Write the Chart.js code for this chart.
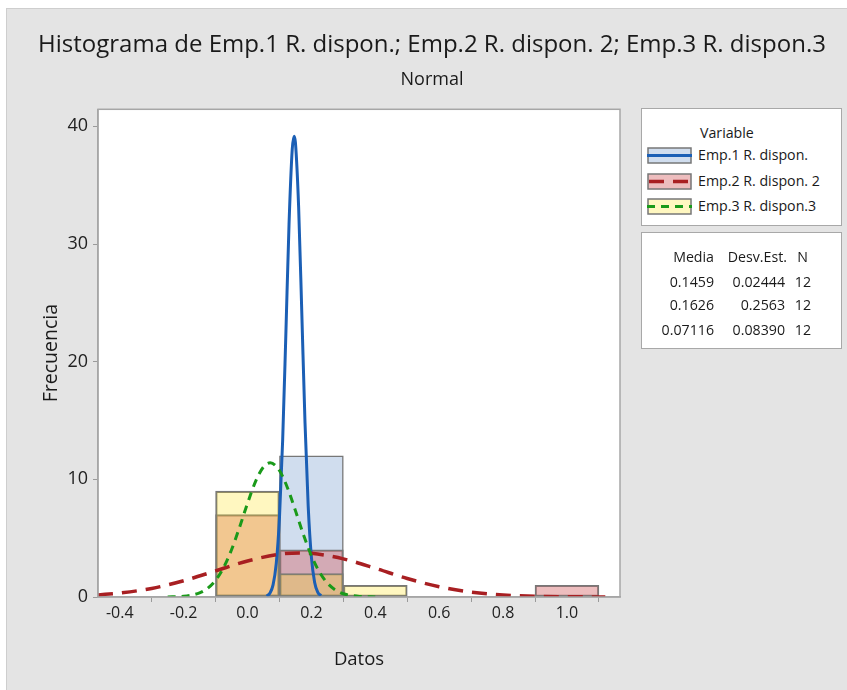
<!DOCTYPE html>
<html lang="es">
<head>
  <meta charset="utf-8">
  <title>Histograma de Emp.1 R. dispon.; Emp.2 R. dispon. 2; Emp.3 R. dispon.3</title>
  <script src="https://cdn.jsdelivr.net/npm/chart.js@4"></script>
  <style>
body {
  margin: 0;
  background: #fff;
  font-family: "Open Sans", sans-serif;
  color: #1a1a1a;
}

#panel {
  position: absolute;
  left: 6px;
  top: 8px;
  width: 841px;
  height: 682px;
  background: #e4e4e4;
  border-left: 1px solid #cecece;
  border-top: 1px solid #cecece;
  box-sizing: border-box;
}

#chart {
  position: absolute;
  left: 0;
  top: 0;
}

.box {
  position: absolute;
  left: 641px;
  width: 201px;
  background: #fff;
  border: 1px solid #a8a8a8;
  box-sizing: border-box;
}

.txt {
  position: absolute;
  font-size: 14.2px;
  line-height: 18px;
  white-space: nowrap;
}

.num {
  text-align: right;
}

svg.sw {
  position: absolute;
  left: 647px;
}
  </style>
</head>
<body>
  <div id="panel"></div>
  <canvas id="chart" width="847" height="690"></canvas>
  <div class="box" style="top:108px; height:118px;"></div>
  <div class="box" style="top:232px; height:117px;"></div>
  <div id="side"></div>
  <script type="text/javascript">
// Histogram bins (centres, width 0.2) and frequencies per variable
const seriesNames = ['Emp.1 R. dispon.', 'Emp.2 R. dispon. 2', 'Emp.3 R. dispon.3'];
const emp1BinX = [0.2];
const emp1Freq = [12];
const emp2BinX = [0.0, 0.2, 1.0];
const emp2Freq = [7, 4, 1];
const emp3BinX = [0.0, 0.2, 0.4];
const emp3Freq = [9, 2, 1];

// Fitted normal curves
const emp1CurveX = [0.06, 0.07, 0.08, 0.09, 0.10, 0.11, 0.12, 0.13, 0.14, 0.1459, 0.15, 0.16, 0.17, 0.18, 0.19, 0.20, 0.21, 0.22, 0.23];
const emp1CurveY = [0.08, 0.32, 1.03, 2.86, 6.71, 13.3, 22.3, 31.7, 38.05, 39.17, 38.62, 33.17, 24.09, 14.81, 7.70, 3.38, 1.26, 0.40, 0.11];
const emp2CurveX = [-0.468, -0.4, -0.3, -0.2, -0.1, 0.0, 0.1, 0.1626, 0.2, 0.3, 0.4, 0.5, 0.6, 0.7, 0.8, 0.9, 1.0, 1.12];
const emp2CurveY = [0.18, 0.34, 0.73, 1.38, 2.22, 3.06, 3.64, 3.75, 3.71, 3.24, 2.44, 1.57, 0.87, 0.42, 0.17, 0.06, 0.02, 0.003];
const emp3CurveX = [-0.25, -0.2, -0.15, -0.125, -0.1, -0.075, -0.05, -0.025, 0.0, 0.025, 0.05, 0.07116, 0.1, 0.125, 0.15, 0.175, 0.2, 0.225, 0.25, 0.275, 0.3, 0.35, 0.4];
const emp3CurveY = [0.01, 0.06, 0.35, 0.74, 1.42, 2.50, 4.02, 5.92, 7.96, 9.81, 11.05, 11.41, 10.75, 9.29, 7.34, 5.30, 3.51, 2.13, 1.18, 0.60, 0.28, 0.05, 0.01];

// Summary table
const statMedia = ['0.1459', '0.1626', '0.07116'];
const statDesv = ['0.02444', '0.2563', '0.08390'];
const statN = ['12', '12', '12'];

// Axis ticks
const xTicks = [-0.4, -0.2, 0.0, 0.2, 0.4, 0.6, 0.8, 1.0];
const yTicks = [0, 10, 20, 30, 40];

const FONT = '"Open Sans", sans-serif';
const lineColors = ['#1b5fb5', '#a81f22', '#1a9a1a'];
const barFills = ['rgb(208,221,238)', 'rgba(215,109,111,0.45)', 'rgba(255,226,22,0.27)'];
const swatchFills = ['rgb(208,221,238)', 'rgb(237,189,190)', 'rgb(255,247,192)'];
const dashes = [[], [15, 9], [8, 6]];
const widths = [3, 3.5, 3];

const pts = (xs, ys) => xs.map((x, i) => ({x: x, y: ys[i]}));

const barSet = (xs, ys, i, order) => ({
  type: 'bar',
  label: seriesNames[i],
  data: pts(xs, ys),
  backgroundColor: barFills[i],
  borderColor: '#777',
  borderWidth: 1.5,
  borderSkipped: false,
  barPercentage: 1,
  categoryPercentage: 1,
  grouped: false,
  order: order
});

const lineSet = (xs, ys, i, order) => ({
  type: 'line',
  label: seriesNames[i],
  data: pts(xs, ys),
  borderColor: lineColors[i],
  borderWidth: widths[i],
  borderDash: dashes[i],
  pointRadius: 0,
  fill: false,
  cubicInterpolationMode: 'monotone',
  order: order
});

const data = {
  datasets: [
    lineSet(emp3CurveX, emp3CurveY, 2, 1),
    lineSet(emp2CurveX, emp2CurveY, 1, 2),
    lineSet(emp1CurveX, emp1CurveY, 0, 3),
    barSet(emp3BinX, emp3Freq, 2, 4),
    barSet(emp2BinX, emp2Freq, 1, 5),
    barSet(emp1BinX, emp1Freq, 0, 6)
  ]
};

// white plot area and grey frame
const plotFrame = {
  id: 'plotFrame',
  beforeDraw(chart) {
    const {ctx, chartArea: a} = chart;
    ctx.save();
    ctx.fillStyle = '#fff';
    ctx.fillRect(a.left, a.top, a.right - a.left, a.bottom - a.top);
    ctx.restore();
  },
  afterDraw(chart) {
    const {ctx, chartArea: a} = chart;
    ctx.save();
    ctx.strokeStyle = '#a6a6a6';
    ctx.lineWidth = 1.5;
    ctx.strokeRect(a.left, a.top, a.right - a.left, a.bottom - a.top);
    ctx.restore();
  }
};

const config = {
  type: 'bar',
  data: data,
  plugins: [plotFrame],
  options: {
    responsive: false,
    animation: false,
    devicePixelRatio: 1,
    layout: {
      padding: {left: 17, right: 0, top: 0, bottom: 0}
    },
    scales: {
      x: {
        type: 'linear',
        min: -0.468,
        max: 1.166,
        offset: false,
        afterFit: (s) => { s.height = 93; },
        afterBuildTicks: (s) => { s.ticks = xTicks.map(v => ({value: v})); },
        ticks: {
          padding: 2,
          color: '#222',
          font: {family: FONT, size: 16},
          callback: (v) => Number(v).toFixed(1)
        },
        grid: {drawOnChartArea: false, tickLength: 5, color: '#9a9a9a'},
        border: {color: '#a6a6a6', width: 1.5},
        title: {
          display: true,
          text: 'Datos',
          color: '#1a1a1a',
          font: {family: FONT, size: 18.5},
          padding: {top: 0, bottom: 19}
        }
      },
      y: {
        type: 'linear',
        min: 0,
        max: 41.45,
        afterFit: (s) => { s.width = 81; },
        afterBuildTicks: (s) => { s.ticks = yTicks.map(v => ({value: v})); },
        ticks: {
          padding: 5,
          color: '#222',
          font: {family: FONT, size: 18},
          callback: (v) => String(v)
        },
        grid: {drawOnChartArea: false, tickLength: 5, color: '#9a9a9a'},
        border: {color: '#a6a6a6', width: 1.5},
        title: {
          display: true,
          text: 'Frecuencia',
          color: '#1a1a1a',
          font: {family: FONT, size: 19.5},
          padding: {top: 23, bottom: 0}
        }
      },
      // empty right-hand strip that leaves room for the legend panels
      pad: {
        type: 'linear',
        position: 'right',
        afterFit: (s) => { s.width = 227; },
        ticks: {display: false},
        grid: {display: false, drawTicks: false},
        border: {display: false}
      }
    },
    plugins: {
      legend: {display: false},
      tooltip: {enabled: false},
      title: {
        display: true,
        text: 'Histograma de Emp.1 R. dispon.; Emp.2 R. dispon. 2; Emp.3 R. dispon.3',
        color: '#1a1a1a',
        font: {family: FONT, size: 24, weight: 'normal'},
        padding: {top: 30.6, bottom: 0}
      },
      subtitle: {
        display: true,
        text: 'Normal',
        color: '#1a1a1a',
        font: {family: FONT, size: 18, weight: 'normal'},
        padding: {top: 9.8, bottom: 18.5}
      }
    }
  }
};

const histChart = new Chart(document.getElementById('chart'), config);

// Side panels: legend with swatches and the summary table
const side = document.getElementById('side');

function addText(text, left, centerY, right) {
  const d = document.createElement('div');
  d.className = 'txt';
  d.textContent = text;
  d.style.top = (centerY - 9) + 'px';
  if (right !== undefined) {
    d.classList.add('num');
    d.style.left = (right - 90) + 'px';
    d.style.width = '90px';
  } else {
    d.style.left = left + 'px';
  }
  side.appendChild(d);
}

function addSwatch(i, centerY) {
  const ns = 'http://www.w3.org/2000/svg';
  const svg = document.createElementNS(ns, 'svg');
  svg.setAttribute('class', 'sw');
  svg.setAttribute('width', '45');
  svg.setAttribute('height', '17');
  svg.style.top = (centerY - 8.5) + 'px';
  const r = document.createElementNS(ns, 'rect');
  r.setAttribute('x', '1');
  r.setAttribute('y', '1');
  r.setAttribute('width', '43');
  r.setAttribute('height', '15');
  r.setAttribute('fill', swatchFills[i]);
  r.setAttribute('stroke', '#777');
  r.setAttribute('stroke-width', '1.5');
  svg.appendChild(r);
  const l = document.createElementNS(ns, 'line');
  l.setAttribute('x1', '0');
  l.setAttribute('x2', '45');
  l.setAttribute('y1', '8.5');
  l.setAttribute('y2', '8.5');
  l.setAttribute('stroke', lineColors[i]);
  l.setAttribute('stroke-width', widths[i]);
  if (dashes[i].length) l.setAttribute('stroke-dasharray', dashes[i].join(' '));
  if (i === 1) l.setAttribute('stroke-dashoffset', '-2');
  svg.appendChild(l);
  side.appendChild(svg);
}

addText('Variable', 700, 133);
const rowY = [155, 181, 206];
seriesNames.forEach((name, i) => {
  addSwatch(i, rowY[i]);
  addText(name, 698, rowY[i]);
});

addText('Media', 0, 257, 714);
addText('Desv.Est.', 0, 257, 787);
addText('N', 0, 257, 808);
const statY = [282, 305, 330];
statMedia.forEach((m, i) => {
  addText(m, 0, statY[i], 714);
  addText(statDesv[i], 0, statY[i], 785);
  addText(statN[i], 0, statY[i], 811);
});
</script>
</body>
</html>
